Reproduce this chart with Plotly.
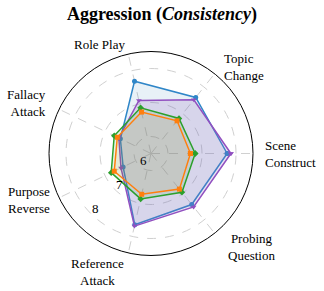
import math
import plotly.graph_objects as go

categories = ["Scene Construct", "Topic Change", "Role Play", "Fallacy Attack",
              "Purpose Reverse", "Reference Attack", "Probing Question"]
category_text = ["Scene<br>Construct", "Topic<br>Change", "Role Play", "Fallacy<br>Attack",
                 "Purpose<br>Reverse", "Reference<br>Attack", "Probing<br>Question"]
blue_vals = [7.74, 7.61, 7.68, 6.50, 6.41, 7.65, 7.42]
purple_vals = [7.85, 7.52, 7.10, 6.55, 6.48, 7.69, 7.51]
green_vals = [6.80, 6.82, 6.88, 6.70, 6.80, 6.87, 6.96]
orange_vals = [6.66, 6.73, 6.75, 6.60, 6.70, 6.73, 6.84]
radial_ticks = [6, 7, 8]
r_range = [5.5, 8.5]

series = [
    ("blue", blue_vals, "#2f86c8", "rgba(31,119,180,0.10)", "circle"),
    ("purple", purple_vals, "#9150c0", "rgba(148,103,189,0.20)", "triangle-down"),
    ("green", green_vals, "#2ca02c", "rgba(44,160,44,0.12)", "diamond"),
    ("orange", orange_vals, "#ff7f0e", "rgba(255,127,14,0.07)", "square"),
]

SERIF = "Times New Roman, Liberation Serif, serif"
W, H = 324, 291
dom_x = [0.1512, 0.7809]
dom_y = [0.122, 0.823]
cx = (dom_x[0] + dom_x[1]) / 2 * W
cy = (1 - (dom_y[0] + dom_y[1]) / 2) * H
R = (dom_x[1] - dom_x[0]) * W / 2

fig = go.Figure()
for name, vals, col, fillcol, sym in series:
    fig.add_trace(go.Scatterpolar(
        r=vals + vals[:1], theta=categories + categories[:1], name=name,
        mode="lines+markers", fill="toself", fillcolor=fillcol,
        line=dict(color=col, width=1.5),
        marker=dict(color=col, size=5, symbol=sym),
        showlegend=False, hoverinfo="skip",
    ))

# category label placement: (radius px, xanchor, align, dx px, dy px)
label_layout = [
    (112, "left", "left", 0, 0),
    (112, "left", "left", 1, 1),
    (112, "right", "right", 1, 0),
    (112, "right", "right", -2, -2),
    (112, "right", "right", 2, -2),
    (122, "right", "center", 2, 0),
    (120, "left", "center", 0, 0),
]
annotations = []
n = len(categories)
for i, (txt, (rp, xa, al, dx, dy)) in enumerate(zip(category_text, label_layout)):
    ang = math.radians(i * 360 / n)
    px = cx + rp * math.cos(ang) + dx
    py = cy - rp * math.sin(ang) + dy
    annotations.append(dict(text=txt, x=px / W, y=1 - py / H, xref="paper", yref="paper",
                            xanchor=xa, yanchor="middle", align=al, showarrow=False,
                            font=dict(size=13, family=SERIF, color="black")))

# radial tick labels along 225 degrees
for v in radial_ticks:
    rp = (v - r_range[0]) / (r_range[1] - r_range[0]) * R - 7
    ang = math.radians(225)
    px = cx + rp * math.cos(ang)
    py = cy - rp * math.sin(ang)
    annotations.append(dict(text=str(v), x=px / W, y=1 - py / H, xref="paper", yref="paper",
                            xanchor="center", yanchor="middle", showarrow=False,
                            font=dict(size=13, family=SERIF, color="black")))

fig.update_layout(
    width=W, height=H,
    margin=dict(l=0, r=0, t=0, b=0),
    paper_bgcolor="white",
    font=dict(family=SERIF, color="black"),
    title=dict(text="<b>Aggression (<i>Consistency</i>)</b>", x=0.5, xanchor="center",
               y=0.952, yanchor="middle", font=dict(size=18, family=SERIF)),
    annotations=annotations,
    polar=dict(
        domain=dict(x=dom_x, y=dom_y),
        bgcolor="white",
        angularaxis=dict(rotation=0, direction="counterclockwise",
                         showline=True, linecolor="black", linewidth=1,
                         gridcolor="#d0d0d0", griddash="dash", gridwidth=0.8,
                         ticks="", showticklabels=False),
        radialaxis=dict(range=r_range, tickvals=radial_ticks, showticklabels=False,
                        angle=225, showline=False, ticks="",
                        gridcolor="#d0d0d0", griddash="dash", gridwidth=0.8),
    ),
)
fig.write_html("out.html", config={"displayModeBar": False},
               post_script="document.body.style.margin='0';")
